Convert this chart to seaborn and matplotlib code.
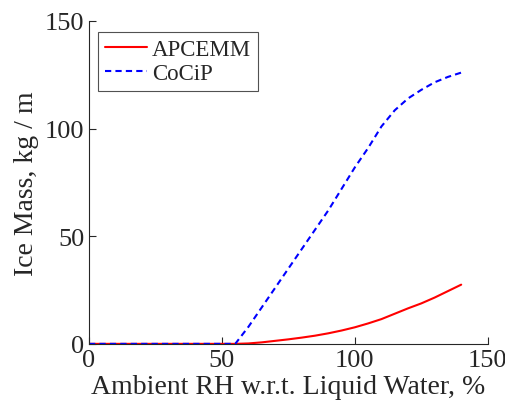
import numpy as np
import pandas as pd
import seaborn as sns
import matplotlib.pyplot as plt

rh = [0, 5, 10, 15, 20, 25, 30, 35, 40, 45, 50, 55, 60, 65, 70, 75, 80, 85, 90, 95, 100, 105, 110, 115, 120, 125, 130, 135, 140]
apcemm = [0, 0, 0, 0, 0, 0, 0, 0, 0, 0, 0, 0, 0.2, 0.7, 1.4, 2.1, 2.9, 3.8, 4.9, 6.2, 7.7, 9.5, 11.5, 14.0, 16.5, 18.8, 21.5, 24.5, 27.5]
cocip = [0, 0, 0, 0, 0, 0, 0, 0, 0, 0, 0, 0, 8, 17, 26, 35, 44, 53, 62, 72, 82, 91, 101, 108.5, 114, 118, 121.5, 124, 126]

df = pd.concat([
    pd.DataFrame({"rh": rh, "mass": apcemm, "model": "APCEMM"}),
    pd.DataFrame({"rh": rh, "mass": cocip, "model": "CoCiP"}),
])

sns.set_style("ticks")
plt.rcParams["font.family"] = ["Liberation Serif", "DejaVu Serif"]
plt.rcParams["xtick.direction"] = "in"
plt.rcParams["ytick.direction"] = "in"

fig = plt.figure(figsize=(5.06, 4.14), dpi=100)
ax = fig.add_axes([0.176, 0.167, 0.788, 0.78])
sns.lineplot(data=df, x="rh", y="mass", hue="model", style="model",
             palette={"APCEMM": "red", "CoCiP": "blue"},
             dashes={"APCEMM": "", "CoCiP": (3, 2)}, linewidth=1.5, ax=ax)
sns.despine(ax=ax)

ax.set_xlim(0, 150)
ax.set_ylim(0, 150)
ax.set_xticks([0, 50, 100, 150])
ax.set_yticks([0, 50, 100, 150])
ax.tick_params(labelsize=19, length=5, width=0.8, color="#262626", labelcolor="#262626")
for s in ["left", "bottom"]:
    ax.spines[s].set_color("#262626")
    ax.spines[s].set_linewidth(0.8)
ax.set_xlabel("Ambient RH w.r.t. Liquid Water, %", fontsize=20, color="#262626", labelpad=2)
ax.set_ylabel("Ice Mass, kg / m", fontsize=20, color="#262626")
leg = ax.legend(loc="upper left", fontsize=16.5, frameon=True, fancybox=False,
                edgecolor="#262626", handlelength=1.85, handletextpad=0.2,
                borderpad=0.3, labelspacing=0.12, borderaxespad=0,
                bbox_to_anchor=(0.023, 0.965))
leg.get_frame().set_linewidth(0.8)

fig.savefig("out.png", dpi=100)
